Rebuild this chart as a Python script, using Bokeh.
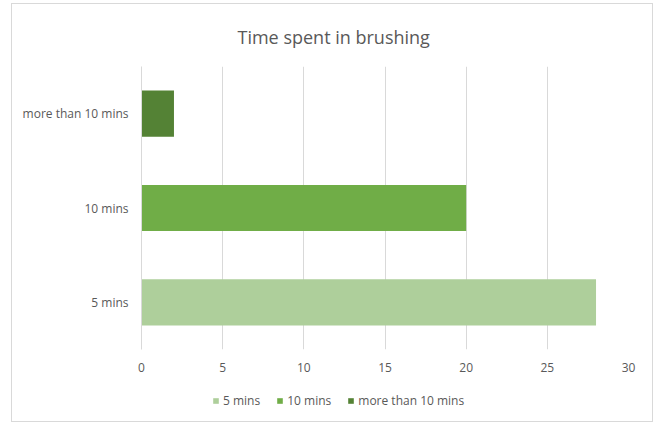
from bokeh.plotting import figure
from bokeh.models import FactorRange, Range1d, Legend, LegendItem, FixedTicker
from bokeh.layouts import column
from bokeh.embed import file_html
from bokeh.resources import INLINE

categories = ["5 mins", "10 mins", "more than 10 mins"]
values = [28, 20, 2]
colors = ["#AECF9B", "#70AD47", "#548235"]
x_ticks = [0, 5, 10, 15, 20, 25, 30]
title_text = "Time spent in brushing"

# main chart (canvas x 12..652, y 4..393)
p = figure(width=640, height=389, output_backend="svg", toolbar_location=None,
           y_range=FactorRange(factors=categories), x_range=Range1d(0, 30),
           min_border_left=129, min_border_right=24, min_border_top=62, min_border_bottom=44,
           title=title_text)
p.outline_line_color = None
p.background_fill_color = "white"
p.border_fill_color = "white"

p.title.align = "left"
p.title.offset = 96
p.title.text_font = "Open Sans"
p.title.text_font_size = "18px"
p.title.text_font_style = "normal"
p.title.text_color = "#595959"
p.title.standoff = 36

for cat, val, col in zip(categories, values, colors):
    p.hbar(y=[cat], right=[val], left=0, height=0.49, fill_color=col, line_color=None)

p.xaxis.ticker = FixedTicker(ticks=x_ticks)
p.xaxis.axis_line_color = None
p.xaxis.major_tick_line_color = None
p.xaxis.minor_tick_line_color = None
p.xaxis.major_label_text_color = "#595959"
p.xaxis.major_label_text_font = "Open Sans"
p.xaxis.major_label_text_font_size = "12px"
p.xaxis.major_label_standoff = 7

p.yaxis.axis_line_color = "#d9d9d9"
p.yaxis.major_tick_line_color = None
p.yaxis.minor_tick_line_color = None
p.yaxis.major_label_text_color = "#595959"
p.yaxis.major_label_text_font = "Open Sans"
p.yaxis.major_label_text_font_size = "12px"
p.yaxis.major_label_standoff = 7

p.xgrid.grid_line_color = "#d9d9d9"
p.xgrid.ticker = FixedTicker(ticks=x_ticks[1:])
p.ygrid.grid_line_color = None

# legend strip (canvas y 393..421); its frame is aligned with the main frame
leg = figure(width=640, height=28, output_backend="svg", toolbar_location=None,
             x_range=Range1d(0, 1), y_range=Range1d(0, 1),
             min_border=0, min_border_left=0, min_border_right=0, min_border_top=0, min_border_bottom=0)
leg.axis.visible = False
leg.grid.visible = False
leg.outline_line_color = None
leg.background_fill_color = "white"
leg.border_fill_color = "white"

items = []
for cat, col in zip(categories, colors):
    # swatch renderer kept outside the visible range; only its legend glyph shows
    r = leg.hbar(y=[-10], right=[1], left=0, height=0.5, fill_color=col, line_color=None)
    items.append(LegendItem(label=cat, renderers=[r]))

legend = Legend(items=items, orientation="horizontal", location=(71, 12),
                glyph_width=7, glyph_height=7, label_standoff=4, spacing=16,
                padding=0, margin=0, border_line_color=None, background_fill_alpha=0,
                label_text_font="Open Sans", label_text_font_size="12px", label_text_color="#595959",
                label_height=14)
leg.add_layout(legend, "center")

lay = column(p, leg, spacing=0, margin=(4, 6, 3, 12),
             styles={"outline": "1px solid #d9d9d9"})

open("out.html", "w").write(file_html(lay, INLINE))
